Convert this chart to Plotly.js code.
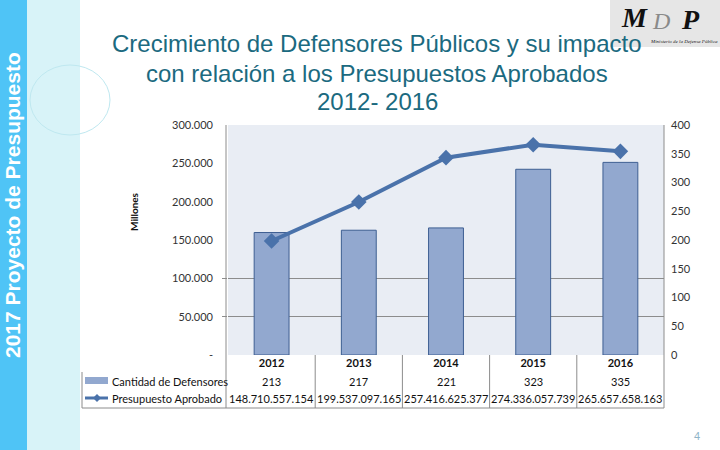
<!DOCTYPE html>
<html>
<head>
<meta charset="utf-8">
<script src="https://cdn.plot.ly/plotly-3.0.1.min.js"></script>
<style>html,body{margin:0;padding:0;background:#fff;}#chart{width:720px;height:450px;}</style>
</head>
<body>
<div id="chart"></div>
<script>
// ---- data ----
const years = ['2012', '2013', '2014', '2015', '2016'];
const defensores = [213, 217, 221, 323, 335];
const presupuesto = [148710557154, 199537097165, 257416625377, 274336057739, 265657658163];
const leftTickVals = [0, 50000, 100000, 150000, 200000, 250000, 300000];
const leftTickText = ['-', '50.000', '100.000', '150.000', '200.000', '250.000', '300.000'];
const rightTickVals = [0, 50, 100, 150, 200, 250, 300, 350, 400];
const gridVals = [50000, 100000];
const seriesNames = ['Cantidad de Defensores', 'Presupuesto Aprobado'];
const titleLines = ['Crecimiento de Defensores Públicos y su impacto', 'con relación a los Presupuestos Aprobados', '2012- 2016'];
const bannerText = '2017 Proyecto de Presupuesto';

// ---- helpers ----
const W = 720, H = 450;
const px = v => v / W;
const py = v => 1 - v / H;
const fmt = n => Math.round(n).toString().replace(/\B(?=(\d{3})+(?!\d))/g, '.');
const millones = presupuesto.map(v => v / 1e6);

const barColor = '#92a8cf', barLine = '#3e5f92', lineColor = '#4a72aa', gridColor = '#8c8c8c';
const tblFont = {family: 'Lato, "Open Sans", sans-serif', size: 11, color: '#111'};

const traces = [
  {type: 'bar', x: years, y: defensores, yaxis: 'y', xaxis: 'x', name: seriesNames[0],
   width: 0.4, marker: {color: barColor, line: {color: barLine, width: 1}}, hoverinfo: 'skip'},
  {type: 'scatter', mode: 'lines+markers', x: years, y: millones, yaxis: 'y2', xaxis: 'x', name: seriesNames[1],
   line: {color: lineColor, width: 4}, marker: {symbol: 'diamond', size: 12, color: lineColor}, hoverinfo: 'skip'},
  {type: 'scatter', mode: 'none', x: years, y: millones, yaxis: 'y3', xaxis: 'x', showlegend: false, hoverinfo: 'skip'}
];

const xL = 228, xR = 664, yT = 125, yB = 355;
const tickFont = {family: 'Lato, "Open Sans", sans-serif', size: 11, color: '#333'};

const shapes = [
  {type: 'rect', xref: 'paper', yref: 'paper', x0: 0, x1: px(27), y0: 0, y1: 1, fillcolor: '#4fc4f6', line: {width: 0}, layer: 'below'},
  {type: 'rect', xref: 'paper', yref: 'paper', x0: px(27), x1: px(80), y0: 0, y1: 1, fillcolor: '#d8f3f8', line: {width: 0}, layer: 'below'},
  {type: 'circle', xref: 'paper', yref: 'paper', x0: px(30), x1: px(110), y0: py(135), y1: py(65), fillcolor: 'rgba(0,0,0,0)', line: {color: '#bfe8f0', width: 1}, layer: 'below'},
  {type: 'rect', xref: 'paper', yref: 'paper', x0: px(610), x1: 1, y0: py(47), y1: 1, fillcolor: '#e6e6e6', line: {width: 0}, layer: 'below'},
  {type: 'line', xref: 'paper', yref: 'paper', x0: px(226), x1: px(226), y0: py(408), y1: py(yT), line: {color: gridColor, width: 1}},
  {type: 'line', xref: 'paper', yref: 'paper', x0: px(xR), x1: px(xR), y0: py(408), y1: py(yT), line: {color: gridColor, width: 1}},
  {type: 'line', xref: 'paper', yref: 'paper', x0: px(82), x1: px(xR), y0: py(408), y1: py(408), line: {color: gridColor, width: 1}},
  {type: 'line', xref: 'paper', yref: 'paper', x0: px(82), x1: px(82), y0: py(408), y1: py(372), line: {color: gridColor, width: 1}},
  {type: 'rect', xref: 'paper', yref: 'paper', x0: px(85), x1: px(108), y0: py(384), y1: py(377), fillcolor: barColor, line: {width: 0}},
  {type: 'line', xref: 'paper', yref: 'paper', x0: px(85), x1: px(108), y0: py(398), y1: py(398), line: {color: lineColor, width: 3}}
];
(function(){
  const cx = 97, cy = 398, r = 4;
  const pts = [[cx, cy - r], [cx + r, cy], [cx, cy + r], [cx - r, cy]];
  shapes.push({type: 'path', xref: 'paper', yref: 'paper',
    path: 'M' + pts.map(p => px(p[0]) + ',' + py(p[1])).join('L') + 'Z', fillcolor: lineColor, line: {width: 0}});
})();
const colW = (xR - xL) / years.length;
for (let i = 1; i < years.length; i++) {
  const xx = xL + i * colW;
  shapes.push({type: 'line', xref: 'paper', yref: 'paper', x0: px(xx), x1: px(xx), y0: py(408), y1: py(yB), line: {color: gridColor, width: 1}});
}

const titleFont = {family: '"Liberation Sans", Arial, sans-serif', size: 24, color: '#1b6a80'};
const titleY = [44, 73, 101];
const logoAnn = {xref: 'paper', yref: 'paper', showarrow: false, xanchor: 'center', yanchor: 'middle', borderpad: 0};
const annotations = [
  {xref: 'paper', yref: 'paper', x: px(13), y: py(205), text: '<b>' + bannerText + '</b>', textangle: -90, showarrow: false,
   xanchor: 'center', yanchor: 'middle', font: {family: '"Liberation Sans", Arial, sans-serif', size: 21, color: '#ffffff'}},
  {xref: 'paper', yref: 'paper', x: px(134), y: py(212), text: '<b>Millones</b>', textangle: -90, showarrow: false,
   xanchor: 'center', yanchor: 'middle', font: {family: 'Lato, "Open Sans", sans-serif', size: 10, color: '#111'}},
  {xref: 'paper', yref: 'paper', x: px(697), y: py(436), text: '4', showarrow: false, xanchor: 'center', yanchor: 'middle',
   font: {family: '"Liberation Sans", Arial, sans-serif', size: 11, color: '#8fb4c8'}},
  Object.assign({x: px(634), y: py(17), text: '<b><i>M</i></b>', font: {family: '"Liberation Serif", serif', size: 28, color: '#111'}}, logoAnn),
  Object.assign({x: px(661), y: py(21), text: '<i>D</i>', font: {family: '"Liberation Serif", serif', size: 24, color: '#8a8a8a'}}, logoAnn),
  Object.assign({x: px(690), y: py(20), text: '<b><i>P</i></b>', font: {family: '"Liberation Serif", serif', size: 28, color: '#111'}}, logoAnn),
  Object.assign({x: px(684), y: py(41), text: '<i>Ministerio de la Defensa Pública</i>', font: {family: '"Liberation Serif", serif', size: 5, color: '#222'}}, logoAnn),
  {xref: 'paper', yref: 'paper', x: px(110), y: py(381), text: seriesNames[0], showarrow: false, xanchor: 'left', yanchor: 'middle', font: tblFont},
  {xref: 'paper', yref: 'paper', x: px(110), y: py(398), text: seriesNames[1], showarrow: false, xanchor: 'left', yanchor: 'middle', font: tblFont}
];
titleLines.forEach((t, i) => {
  annotations.push({xref: 'paper', yref: 'paper', x: px(377), y: py(titleY[i]), text: t, showarrow: false,
    xanchor: 'center', yanchor: 'middle', borderpad: 0, font: titleFont});
});
years.forEach((yr, i) => {
  annotations.push({xref: 'x', yref: 'paper', x: i, y: py(381), text: String(defensores[i]), showarrow: false,
    xanchor: 'center', yanchor: 'middle', font: tblFont});
  annotations.push({xref: 'x', yref: 'paper', x: i, y: py(398), text: fmt(presupuesto[i]), showarrow: false,
    xanchor: 'center', yanchor: 'middle', font: tblFont});
});

const layout = {
  width: W, height: H,
  margin: {l: 0, r: 0, t: 0, b: 0},
  paper_bgcolor: '#ffffff',
  plot_bgcolor: '#e9edf4',
  showlegend: false,
  xaxis: {domain: [px(xL), px(xR)], type: 'category', categoryorder: 'array', categoryarray: years,
    range: [-0.5, years.length - 0.5], autorange: false,
    showgrid: false, zeroline: false, showline: false, ticks: '',
    tickfont: {family: 'Lato, "Open Sans", sans-serif', size: 11, color: '#111', weight: 'bold'}, fixedrange: true},
  yaxis: {domain: [py(yB), py(yT)], side: 'right', range: [0, 400], autorange: false, tickvals: rightTickVals,
    showgrid: false, zeroline: false, showline: false, ticks: '', ticklabelstandoff: 6,
    tickfont: tickFont, fixedrange: true},
  yaxis2: {overlaying: 'y', side: 'left', range: [0, 300000], autorange: false, tickvals: leftTickVals, ticktext: leftTickText,
    showgrid: false, zeroline: false, showline: false, ticks: '', ticklabelstandoff: 14,
    tickfont: tickFont, fixedrange: true},
  yaxis3: {overlaying: 'y', side: 'left', range: [0, 300000], autorange: false, tickvals: gridVals, showticklabels: false,
    showgrid: true, gridcolor: gridColor, gridwidth: 1, zeroline: false, showline: false,
    ticks: 'outside', ticklen: 5, tickcolor: gridColor, fixedrange: true},
  shapes: shapes,
  annotations: annotations
};

Plotly.newPlot('chart', traces, layout, {displayModeBar: false, staticPlot: true});
</script>
</body>
</html>
